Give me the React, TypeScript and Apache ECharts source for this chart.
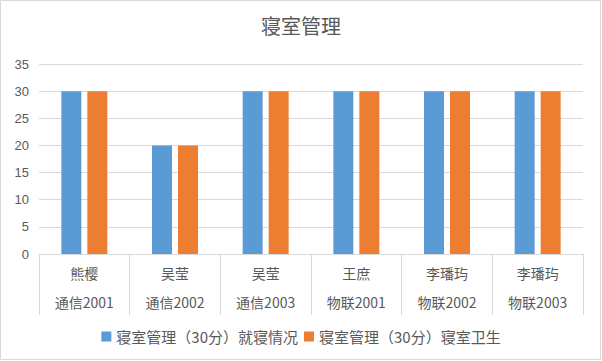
import React, { useEffect, useRef } from "react";
import * as echarts from "echarts";

const categories = [
  "熊樱\n通信2001",
  "吴莹\n通信2002",
  "吴莹\n通信2003",
  "王庶\n物联2001",
  "李璠玙\n物联2002",
  "李璠玙\n物联2003",
];
const seriesNames = ["寝室管理（30分）就寝情况", "寝室管理（30分）寝室卫生"];
const sleepScores = [30, 20, 30, 30, 30, 30];
const hygieneScores = [30, 20, 30, 30, 30, 30];

const FONT = "'Noto Sans CJK SC', 'Noto Sans', sans-serif";
const TEXT = "#595959";
const GRIDC = "#d9d9d9";

export default function App() {
  const ref = useRef<HTMLDivElement>(null);
  useEffect(() => {
    if (!ref.current) return;
    const chart = echarts.init(ref.current, undefined, { renderer: "svg" });
    chart.setOption({
      animation: false,
      backgroundColor: "#ffffff",
      title: {
        text: "寝室管理",
        left: "center",
        top: 10,
        textStyle: { fontFamily: FONT, fontSize: 20, fontWeight: "normal", color: TEXT },
      },
      graphic: [
        {
          type: "rect",
          shape: { x: 0.5, y: 0.5, width: 600, height: 359 },
          style: { fill: "none", stroke: GRIDC, lineWidth: 1 },
          silent: true,
        },
      ],
      legend: {
        bottom: 12,
        left: "center",
        itemWidth: 10,
        itemHeight: 10,
        itemGap: 6,
        icon: "rect",
        textStyle: { fontFamily: FONT, fontSize: 15, color: TEXT },
        data: seriesNames,
      },
      grid: { left: 39, right: 19, top: 64, bottom: 107, containLabel: false },
      xAxis: {
        type: "category",
        data: categories,
        axisLine: { lineStyle: { color: GRIDC } },
        axisTick: { show: true, length: 61, interval: 0, lineStyle: { color: GRIDC } },
        axisLabel: {
          interval: 0,
          margin: 4,
          fontFamily: FONT,
          fontSize: 14,
          lineHeight: 29,
          color: TEXT,
        },
      },
      yAxis: {
        type: "value",
        min: 0,
        max: 35,
        interval: 5,
        axisLine: { show: false },
        axisTick: { show: false },
        splitLine: { lineStyle: { color: GRIDC } },
        axisLabel: { fontFamily: "'Liberation Sans', sans-serif", fontSize: 13, color: TEXT, margin: 10 },
      },
      series: [
        {
          name: seriesNames[0],
          type: "bar",
          data: sleepScores,
          barWidth: 20,
          barGap: "30%",
          itemStyle: { color: "#5B9BD5" },
        },
        {
          name: seriesNames[1],
          type: "bar",
          data: hygieneScores,
          barWidth: 20,
          itemStyle: { color: "#ED7D31" },
        },
      ],
    });
    return () => chart.dispose();
  }, []);
  return (
    <div
      ref={ref}
      style={{ position: "absolute", left: 0, top: 0, width: 602, height: 361 }}
    />
  );
}
